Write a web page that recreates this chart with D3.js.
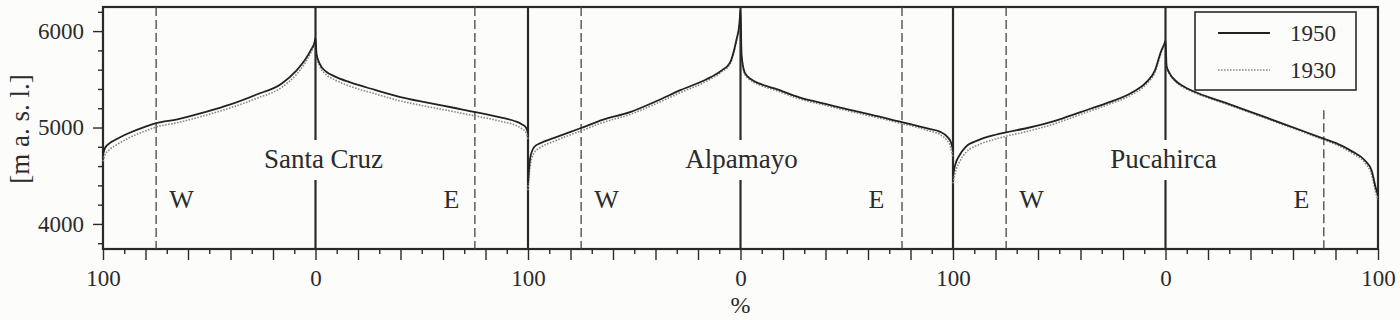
<!DOCTYPE html>
<html><head><meta charset="utf-8">
<script src="https://cdn.jsdelivr.net/npm/d3@7"></script>
<style>
html,body{margin:0;padding:0;background:#fcfcfb;}
svg{display:block;}
text{font-family:"Liberation Serif","Times New Roman",serif;fill:#2b2b2b;}
</style></head><body>
<svg id="chart" width="1400" height="320"></svg>
<script>
// ---------------- DATA ----------------
const glaciers = ["Santa Cruz", "Alpamayo", "Pucahirca"];
const years = ["1950", "1930"];
// percent of width from crest (0) to glacier edge (100)
const pctGrid = [0, 0.5, 2, 5, 9, 16, 28, 40, 52, 65, 75, 80, 88, 94, 97, 99, 100];

const santaCruzW1950 = [5930, 5880, 5810, 5700, 5590, 5455, 5340, 5240, 5160, 5085, 5045, 5010, 4940, 4875, 4835, 4790, 4720];
const santaCruzW1930 = [5925, 5865, 5785, 5665, 5550, 5415, 5300, 5205, 5125, 5050, 5005, 4965, 4890, 4815, 4770, 4720, 4650];
const santaCruzE1950 = [5930, 5760, 5660, 5580, 5530, 5470, 5390, 5315, 5260, 5205, 5160, 5140, 5100, 5065, 5035, 5000, 4950];
const santaCruzE1930 = [5925, 5740, 5635, 5550, 5495, 5430, 5350, 5275, 5220, 5165, 5120, 5100, 5060, 5025, 4990, 4950, 4880];

const alpamayoW1950 = [6220, 6080, 5900, 5670, 5590, 5500, 5390, 5270, 5160, 5080, 4995, 4955, 4890, 4840, 4800, 4680, 4420];
const alpamayoW1930 = [6220, 6075, 5890, 5655, 5575, 5480, 5365, 5245, 5135, 5050, 4965, 4925, 4855, 4795, 4740, 4600, 4350];
const alpamayoE1950 = [6220, 5750, 5570, 5500, 5455, 5405, 5310, 5245, 5180, 5115, 5060, 5035, 4990, 4955, 4910, 4850, 4770];
const alpamayoE1930 = [6220, 5740, 5555, 5485, 5440, 5390, 5295, 5230, 5165, 5100, 5045, 5020, 4970, 4925, 4870, 4790, 4690];

const pucahircaW1950 = [5900, 5870, 5795, 5590, 5470, 5360, 5250, 5160, 5070, 4995, 4950, 4925, 4870, 4800, 4710, 4610, 4500];
const pucahircaW1930 = [5900, 5865, 5780, 5570, 5450, 5340, 5230, 5135, 5040, 4960, 4910, 4880, 4820, 4740, 4640, 4530, 4420];
const pucahircaE1950 = [5900, 5640, 5560, 5480, 5420, 5350, 5258, 5163, 5066, 4961, 4880, 4840, 4750, 4655, 4555, 4370, 4300];
const pucahircaE1930 = [5900, 5630, 5550, 5470, 5410, 5340, 5248, 5153, 5056, 4951, 4868, 4825, 4730, 4630, 4510, 4320, 4250];

// W / E division lines (percent from crest)
const dividerW = [75, 75, 75];
const dividerE = [75, 76, 74.5];

const yTickValues = [3800, 4000, 4200, 4400, 4600, 4800, 5000, 5200, 5400, 5600, 5800, 6000, 6200];
const yTickLabels = ["", "4000", "", "", "", "", "5000", "", "", "", "", "6000", ""];
const xTickPct = [100, 90, 80, 70, 60, 50, 40, 30, 20, 10, 0];

// ---------------- CHART ----------------
(function () {
const series = {
  "Santa Cruz": { W: { "1950": santaCruzW1950, "1930": santaCruzW1930 }, E: { "1950": santaCruzE1950, "1930": santaCruzE1930 } },
  "Alpamayo":   { W: { "1950": alpamayoW1950,  "1930": alpamayoW1930 },  E: { "1950": alpamayoE1950,  "1930": alpamayoE1930 } },
  "Pucahirca":  { W: { "1950": pucahircaW1950, "1930": pucahircaW1930 }, E: { "1950": pucahircaE1950, "1930": pucahircaE1930 } }
};

const svg = d3.select("#chart");
const L = 103, R = 1378, T = 7, B = 249;
const x = d3.scaleLinear().domain([0, 600]).range([L, R]);
const y = d3.scaleLinear().domain([3740, 6250]).range([B, T]);
const ink = "#2a2a2a";
const bg = "#fcfcfb";

const pos = (i, side, p) => i * 200 + (side === "W" ? 100 - p : 100 + p);

// Y axis
const yAxis = d3.axisLeft(y).tickValues(yTickValues).tickSize(10).tickPadding(9)
  .tickFormat((d, k) => yTickLabels[k]);
const gy = svg.append("g").attr("transform", `translate(${L},0)`).call(yAxis);
gy.select(".domain").remove();
gy.selectAll(".tick line").attr("stroke", ink).attr("stroke-width", 1.4)
  .attr("x2", d => d % 1000 === 0 ? -10 : -5);
gy.selectAll(".tick text").style("font-size", "23px").style("font-family", "Liberation Serif").attr("fill", ink);

// X axis
const xTickValues = [];
glaciers.forEach((g, i) => {
  xTickPct.forEach(p => xTickValues.push(pos(i, "W", p)));
  xTickPct.slice().reverse().slice(1).forEach(p => xTickValues.push(pos(i, "E", p)));
});
const uniqX = Array.from(new Set(xTickValues)).sort((a, b) => a - b);
const pctOf = v => Math.abs((v % 200 === 0 && v > 0 ? 200 : v % 200) - 100);
const xAxis = d3.axisBottom(x).tickValues(uniqX).tickSize(10).tickPadding(11)
  .tickFormat(v => { const p = pctOf(v); return (p === 100 || p === 0) ? String(p) : ""; });
const gx = svg.append("g").attr("transform", `translate(0,${B})`).call(xAxis);
gx.select(".domain").remove();
gx.selectAll(".tick line").attr("stroke", ink).attr("stroke-width", 1.4)
  .attr("y2", v => pctOf(v) % 20 === 0 ? 11 : 5);
gx.selectAll(".tick text").style("font-size", "23px").style("font-family", "Liberation Serif").attr("fill", ink);

// frame
svg.append("rect").attr("x", L).attr("y", T).attr("width", R - L).attr("height", B - T)
  .attr("fill", "none").attr("stroke", ink).attr("stroke-width", 2.2);

// vertical solid lines: crests and panel boundaries
const solidPos = [100, 200, 300, 400, 500];
svg.append("g").selectAll("line").data(solidPos).join("line")
  .attr("x1", d => x(d)).attr("x2", d => x(d)).attr("y1", T).attr("y2", B)
  .attr("stroke", ink).attr("stroke-width", 2.2);

// dashed dividers
const dividers = [];
glaciers.forEach((g, i) => {
  dividers.push({ v: pos(i, "W", dividerW[i]), y0: null });
  dividers.push({ v: pos(i, "E", dividerE[i]), y0: i === 2 ? 5180 : null });
});
svg.append("g").selectAll("line").data(dividers).join("line")
  .attr("x1", d => x(d.v)).attr("x2", d => x(d.v))
  .attr("y1", d => d.y0 === null ? T : y(d.y0)).attr("y2", B)
  .attr("stroke", "#444").attr("stroke-width", 1.3).attr("stroke-dasharray", "9,4");

// curves
const line = d3.line().x(d => x(d[0])).y(d => y(d[1])).curve(d3.curveMonotoneX);
const style = {
  "1950": { stroke: "#222", width: 1.8, dash: null },
  "1930": { stroke: "#8a8a8a", width: 1.6, dash: "1.6,1.4" }
};
glaciers.forEach((g, i) => {
  years.slice().reverse().forEach(yr => {
    const w = series[g].W[yr], e = series[g].E[yr];
    const pts = [];
    for (let k = pctGrid.length - 1; k >= 0; k--) pts.push([pos(i, "W", pctGrid[k]), w[k]]);
    for (let k = 1; k < pctGrid.length; k++) pts.push([pos(i, "E", pctGrid[k]), e[k]]);
    svg.append("path").datum(pts).attr("d", line).attr("fill", "none")
      .attr("stroke", style[yr].stroke).attr("stroke-width", style[yr].width)
      .attr("stroke-dasharray", style[yr].dash).attr("stroke-linejoin", "round");
  });
});

// glacier names with background box (hides crest line)
const nameOffset = [8, 1, -2];
glaciers.forEach((g, i) => {
  const grp = svg.append("g");
  const box = grp.append("rect");
  const t = grp.append("text").attr("x", x(pos(i, "W", 0)) + nameOffset[i]).attr("y", 168)
    .attr("text-anchor", "middle").style("font-size", "27px").attr("fill", ink).text(g);
  const b = t.node().getBBox();
  box.attr("x", b.x - 3).attr("y", 140).attr("width", b.width + 6)
    .attr("height", 180 - 140).attr("fill", bg);
});

// W / E labels
const sideLabels = [];
glaciers.forEach((g, i) => {
  sideLabels.push({ t: "W", v: pos(i, "W", 63) });
  sideLabels.push({ t: "E", v: pos(i, "E", 64) });
});
svg.append("g").selectAll("text").data(sideLabels).join("text")
  .attr("x", d => x(d.v)).attr("y", 208).attr("text-anchor", "middle")
  .style("font-size", "26px").attr("fill", ink).text(d => d.t);

// axis titles
svg.append("text").attr("transform", "translate(29,129) rotate(-90)").attr("text-anchor", "middle")
  .style("font-size", "27px").attr("fill", ink).text("[m a. s. l.]");
svg.append("text").attr("x", x(300)).attr("y", 313).attr("text-anchor", "middle")
  .style("font-size", "24px").attr("fill", ink).text("%");

// legend
const lg = svg.append("g");
lg.append("rect").attr("x", 1195).attr("y", 12).attr("width", 161).attr("height", 78)
  .attr("fill", bg).attr("stroke", ink).attr("stroke-width", 1.6);
years.forEach((yr, k) => {
  const yy = 33 + k * 37;
  lg.append("line").attr("x1", 1218).attr("x2", 1270).attr("y1", yy).attr("y2", yy)
    .attr("stroke", style[yr].stroke).attr("stroke-width", style[yr].width)
    .attr("stroke-dasharray", style[yr].dash);
  lg.append("text").attr("x", 1290).attr("y", yy + 8).style("font-size", "23px").attr("fill", ink).text(yr);
});
})();
</script>
</body></html>
